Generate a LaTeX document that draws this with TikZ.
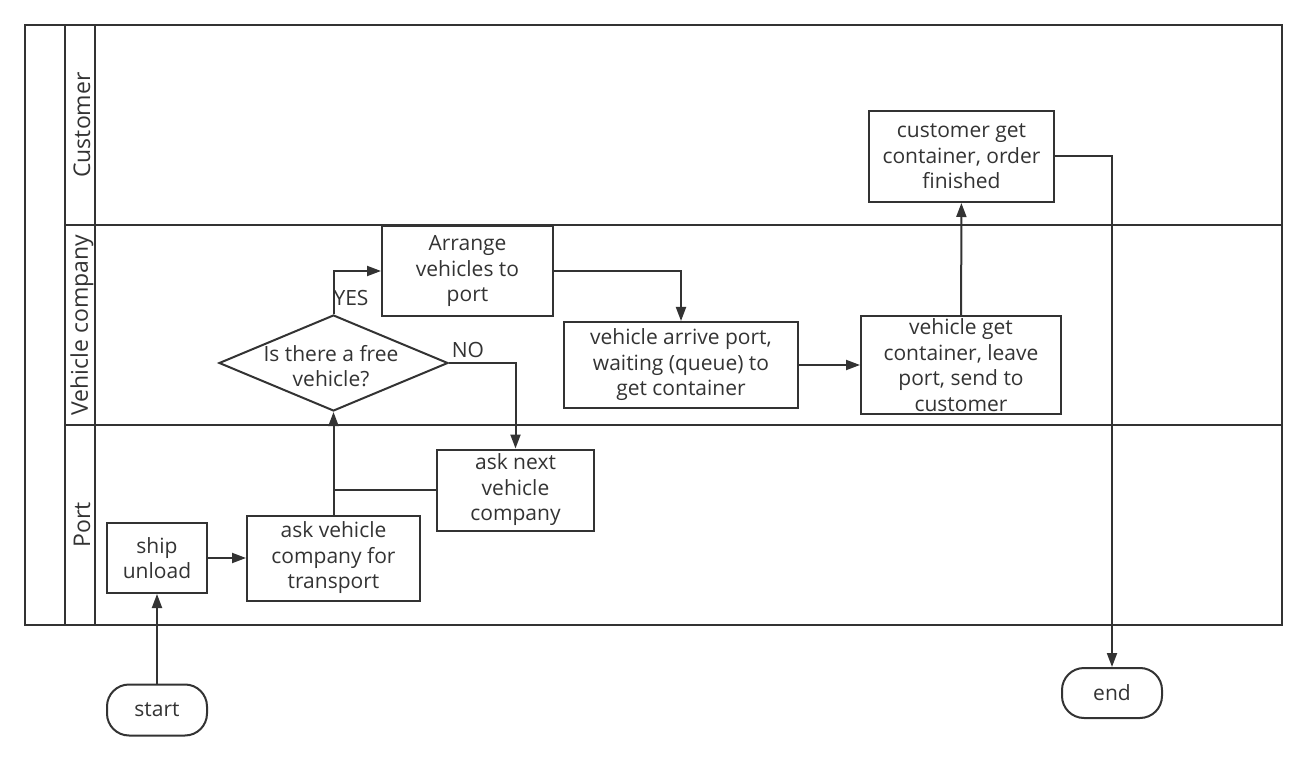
\documentclass[tikz,border=0pt]{standalone}
\usepackage{fontspec}
\setmainfont{Open Sans}
\usepackage{tikz}
\usetikzlibrary{shapes.geometric, arrows.meta}
\definecolor{linegray}{HTML}{333333}

\tikzset{
    box/.style={draw=linegray, line width=2pt, align=center, inner sep=0pt, text=linegray,
        font=\fontsize{21}{25.5}\selectfont},
    term/.style={box, rounded corners=22pt},
    flow/.style={draw=linegray, line width=2pt, -{Triangle[length=14pt,width=10pt]}},
    lane/.style={text=linegray, font=\fontsize{23}{26}\selectfont, rotate=90},
    tag/.style={text=linegray, font=\fontsize{21}{25.5}\selectfont, inner sep=0pt}
}

\begin{document}
\begin{tikzpicture}[x=1pt, y=-1pt]
    \useasboundingbox (0,0) rectangle (1307,759);

    % Draw the swimlane frame
    \draw[linegray, line width=2pt] (25,25) rectangle (1282,625);
    \draw[linegray, line width=2pt] (65,25) -- (65,625);
    \draw[linegray, line width=2pt] (95,25) -- (95,625);
    \draw[linegray, line width=2pt] (65,225) -- (1282,225);
    \draw[linegray, line width=2pt] (65,425) -- (1282,425);

    % Lane titles
    \node[lane] (lcust) at (82,125) {Customer};
    \node[lane] (lveh) at (82,325) {Vehicle company};
    \node[lane] (lport) at (82,525) {Port};

    % Process steps
    \node[term, minimum width=100pt, minimum height=51pt] (start) at (157,710) {start};
    \node[box, minimum width=100pt, minimum height=70pt] (ship) at (157,558) {ship\\unload};
    \node[box, minimum width=173pt, minimum height=85pt] (ask) at (333.5,558) {ask vehicle\\company for\\transport};
    \node[box, minimum width=157pt, minimum height=81pt] (next) at (515.5,490) {ask next\\vehicle\\company};
    \node[draw=linegray, line width=2pt, diamond, inner sep=0pt, minimum width=229pt, minimum height=96pt] (free) at (333.5,363) {};
    \node[tag, align=center] (freetext) at (331,366) {Is there a free\\vehicle?};
    \node[box, minimum width=171pt, minimum height=90pt] (arrange) at (467.5,271) {Arrange\\vehicles to\\port};
    \node[box, minimum width=234pt, minimum height=86pt] (arrive) at (681,365) {vehicle arrive port,\\waiting (queue) to\\get container};
    \node[box, minimum width=200pt, minimum height=98pt] (leave) at (961,365) {vehicle get\\container, leave\\port, send to\\customer};
    \node[box, minimum width=185pt, minimum height=91pt] (done) at (961.5,156.5) {customer get\\container, order\\finished};
    \node[term, minimum width=100pt, minimum height=50pt] (end) at (1112,693) {end};

    % Connectors
    \draw[flow] (start) -- (ship);
    \draw[flow] (ship) -- (ask);
    \draw[flow] (ask.north) -- (free.south);
    \draw[linegray, line width=2pt] (next.west) -- (next.west -| ask.north);
    \draw[flow] (free.north) |- (arrange.west);
    \draw[flow] (free.east) -| (next.north);
    \draw[flow] (arrange.east) -| (arrive.north);
    \draw[flow] (arrive) -- (leave);
    \draw[flow] (leave) -- (done);
    \draw[flow] (done.east) -| (end.north);

    % Decision labels
    \node[tag] (yes) at (351,298) {YES};
    \node[tag] (no) at (468,350) {NO};

\end{tikzpicture}
\end{document}
